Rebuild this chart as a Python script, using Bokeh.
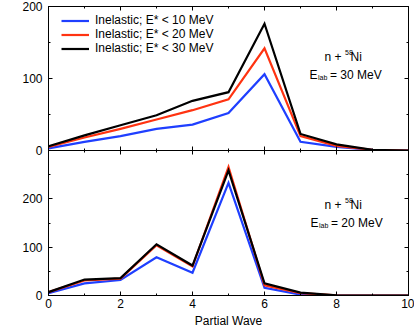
import math
from bokeh.plotting import figure
from bokeh.models import (FixedTicker, LinearAxis, Range1d, Legend, LegendItem,
                          Label, ColumnDataSource, Grid, CustomJSTickFormatter)
from bokeh.layouts import column
from bokeh.embed import file_html
from bokeh.resources import INLINE

# ---------------- data ----------------
partial_wave = [0, 1, 2, 3, 4, 5, 6, 7, 8, 9, 10]

# E_lab = 30 MeV (top panel)
e30_lt10 = [3, 12, 20, 30, 36, 52, 106, 12, 5, 1, 0]
e30_lt20 = [5, 18, 30, 43, 56, 71, 142, 20, 6.5, 1, 0]
e30_lt30 = [6, 21, 35, 49, 69, 81, 176, 23, 8.5, 1, 0]

# E_lab = 20 MeV (bottom panel)
e20_lt10 = [5, 25, 32, 79, 47, 233, 16, 2, 0, 0, 0]
e20_lt20 = [7, 31, 35, 104, 60, 266, 21, 5, 0.5, 0, 0]
e20_lt30 = [7, 33, 36, 106, 62, 259, 25, 6, 0.5, 0, 0]

series_labels = ["Inelastic; E* < 10 MeV", "Inelastic; E* < 20 MeV", "Inelastic; E* < 30 MeV"]

x_ticks = [0, 2, 4, 6, 8, 10]
x_minor = [1, 3, 5, 7, 9]
top_yticks = [0, 100, 200]
top_yminor = [50, 150]
bot_yticks = [0, 100, 200]
bot_yminor = [50, 150, 250]

FONT = "Liberation Sans"
COLORS = ["#1f3fff", "#ff3311", "#000000"]


def setup_axis(ax, ticks, minor, show_labels, tick_out=0, minor_out=0):
    ax.ticker = FixedTicker(ticks=ticks, minor_ticks=minor)
    ax.major_tick_in = 4
    ax.major_tick_out = tick_out
    ax.minor_tick_in = 2
    ax.minor_tick_out = minor_out
    ax.axis_line_color = "black"
    ax.major_tick_line_color = "black"
    ax.minor_tick_line_color = "black"
    if show_labels:
        ax.major_label_text_font = FONT
        ax.major_label_text_font_size = "12px"
        ax.major_label_text_color = "black"
    else:
        ax.formatter = CustomJSTickFormatter(code="return ''")
        ax.major_label_text_font_size = "0px"
        ax.major_label_standoff = 0


def make_fig(y_end, frame_h, top_border, bottom_border):
    p = figure(frame_width=360, frame_height=frame_h,
               x_range=Range1d(0, 10), y_range=Range1d(0, y_end),
               x_axis_location=None, y_axis_location=None,
               output_backend="svg", toolbar_location=None,
               min_border_left=48, min_border_right=6,
               min_border_top=top_border, min_border_bottom=bottom_border)
    p.center = [r for r in p.center if not isinstance(r, Grid)]
    p.outline_line_color = "black"
    p.outline_line_width = 1
    return p


def add_text(p, x, y, text, size, angle=0.0):
    p.add_layout(Label(x=x, y=y, text=text, text_font=FONT, text_font_size=size,
                       text_color="black", angle=angle, text_align="left",
                       text_baseline="alphabetic"))


# ---------------- top panel ----------------
top = make_fig(200, 144, 6, 7)

ax = LinearAxis(); setup_axis(ax, top_yticks, top_yminor, True)
ax.major_label_standoff = 6
top.add_layout(ax, "left")
ax = LinearAxis(); setup_axis(ax, top_yticks, top_yminor, False)
top.add_layout(ax, "right")
ax = LinearAxis(); setup_axis(ax, x_ticks, x_minor, False)
top.add_layout(ax, "above")
ax = LinearAxis(); setup_axis(ax, x_ticks, x_minor, False, tick_out=4, minor_out=2)
top.add_layout(ax, "below")

src_top = ColumnDataSource(dict(x=partial_wave, a=e30_lt10, b=e30_lt20, c=e30_lt30))
rs = []
for col, color in zip(["a", "b", "c"], COLORS):
    rs.append(top.line("x", col, source=src_top, line_color=color, line_width=2.2,
                       line_join="miter"))

legend = Legend(items=[LegendItem(label=l, renderers=[r]) for l, r in zip(series_labels, rs)],
                location=(13, 95), orientation="vertical",
                border_line_color=None, background_fill_alpha=0,
                padding=0, margin=0, spacing=0,
                label_height=13, glyph_height=13, glyph_width=28, label_standoff=6,
                label_text_font=FONT, label_text_font_size="12px", label_text_color="black")
top.add_layout(legend)

# annotation texts
add_text(top, 7.667, 129.6, "n + ", "12px")
add_text(top, 8.236, 136.1, "58", "7px")
add_text(top, 8.389, 129.6, "Ni", "12px")
add_text(top, 7.25, 104.2, "E", "12px")
add_text(top, 7.486, 100.7, "lab", "7px")
add_text(top, 7.819, 104.2, "= 30 MeV", "12px")

# y-axis title (rotated)
add_text(top, -0.944, 70.1, "σ", "12px", math.pi / 2)
add_text(top, -0.875, 80.1, "R", "8px", math.pi / 2)
add_text(top, -0.944, 88.2, " (mb)", "12px", math.pi / 2)

# ---------------- bottom panel ----------------
bot = make_fig(300, 145, 0, 0)
bot.margin = (-7, 0, 0, 0)
bot.background_fill_alpha = 0
bot.border_fill_alpha = 0

ax = LinearAxis(); setup_axis(ax, bot_yticks, bot_yminor, True)
ax.major_label_standoff = 6
bot.add_layout(ax, "left")
ax = LinearAxis(); setup_axis(ax, bot_yticks, bot_yminor, False)
bot.add_layout(ax, "right")
ax = LinearAxis(); setup_axis(ax, x_ticks, x_minor, True)
ax.major_label_standoff = 3
ax.axis_label = "Partial Wave"
ax.axis_label_text_font = FONT
ax.axis_label_text_font_size = "12px"
ax.axis_label_text_font_style = "normal"
ax.axis_label_text_color = "black"
ax.axis_label_standoff = 3
bot.add_layout(ax, "below")

src_bot = ColumnDataSource(dict(x=partial_wave, a=e20_lt10, b=e20_lt20, c=e20_lt30))
for col, color in zip(["a", "b", "c"], COLORS):
    bot.line("x", col, source=src_bot, line_color=color, line_width=2.2, line_join="miter")

add_text(bot, 7.667, 187.7, "n + ", "12px")
add_text(bot, 8.236, 197.4, "58", "7px")
add_text(bot, 8.389, 187.7, "Ni", "12px")
add_text(bot, 7.278, 149.6, "E", "12px")
add_text(bot, 7.514, 144.4, "lab", "7px")
add_text(bot, 7.847, 149.6, "= 20 MeV", "12px")

add_text(bot, -0.944, 106.6, "σ", "12px", math.pi / 2)
add_text(bot, -0.875, 121.5, "R", "8px", math.pi / 2)
add_text(bot, -0.944, 133.4, " (mb)", "12px", math.pi / 2)

layout = column(top, bot, spacing=0)
open("out.html", "w").write(file_html(layout, INLINE))
